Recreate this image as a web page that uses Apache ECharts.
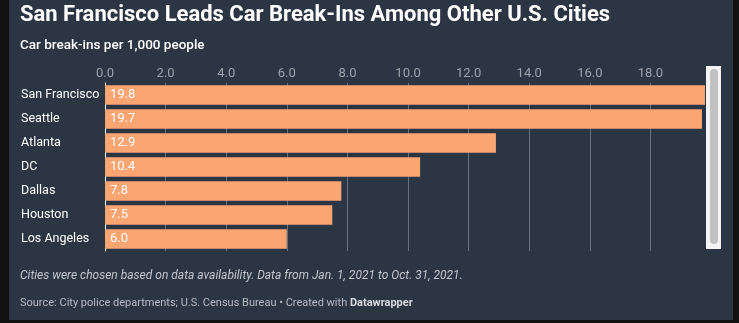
<!DOCTYPE html>
<html>
<head>
<meta charset="utf-8">
<script src="https://cdn.jsdelivr.net/npm/echarts@6/dist/echarts.min.js"></script>
<style>
  html, body { margin: 0; padding: 0; background: #111111; }
  #chart { width: 739px; height: 323px; }
</style>
</head>
<body>
<div id="chart"></div>
<script>
// Car break-ins per 1,000 residents, Jan 1 - Oct 31, 2021
const cities = ['San Francisco', 'Seattle', 'Atlanta', 'DC', 'Dallas', 'Houston', 'Los Angeles'];
const breakIns = [19.8, 19.7, 12.9, 10.4, 7.8, 7.5, 6.0];

const titleText = 'San Francisco Leads Car Break-Ins Among Other U.S. Cities';
const subtitleText = 'Car break-ins per 1,000 people';
const noteText = 'Cities were chosen based on data availability. Data from Jan. 1, 2021 to Oct. 31, 2021.';
const sourceText = 'Source: City police departments; U.S. Census Bureau \u2022 Created with ';
const creditText = 'Datawrapper';

const FONT = 'Roboto, "Noto Sans", sans-serif';
const chart = echarts.init(document.getElementById('chart'), null, { renderer: 'canvas' });

chart.setOption({
  backgroundColor: '#111111',
  animation: false,
  grid: { left: 105, top: 83, width: 600, height: 168, containLabel: false },
  xAxis: {
    type: 'value',
    position: 'top',
    min: 0,
    max: 19.8,
    interval: 2,
    axisLine: { show: false },
    axisTick: { show: false },
    axisLabel: {
      show: true,
      margin: 3,
      color: '#9ea3ab',
      fontFamily: FONT,
      fontSize: 13,
      showMaxLabel: false,
      formatter: v => v.toFixed(1)
    },
    splitLine: { show: true, showMinLine: false, showMaxLine: false, lineStyle: { color: '#6b727d', width: 1 } }
  },
  yAxis: {
    type: 'category',
    data: cities,
    inverse: true,
    axisLine: { show: true, lineStyle: { color: '#ffffff', width: 1 } },
    axisTick: { show: false },
    axisLabel: {
      margin: 84,
      align: 'left',
      color: '#ffffff',
      fontFamily: FONT,
      fontSize: 12.5
    }
  },
  series: [{
    type: 'bar',
    data: breakIns,
    barCategoryGap: '19%',
    itemStyle: { color: '#fba572' },
    z: 1,
    label: {
      show: true,
      position: 'insideLeft',
      distance: 5,
      color: '#ffffff',
      fontFamily: FONT,
      fontSize: 13,
      formatter: p => p.value.toFixed(1)
    }
  }],
  graphic: [
    // panel
    { type: 'rect', z: -10, silent: true, shape: { x: 9, y: 0, width: 724, height: 320 }, style: { fill: '#2c3544' } },
    // scrollbar
    { type: 'rect', z: 10, shape: { x: 706, y: 66, width: 15, height: 183 }, style: { fill: '#f4f4f4' } },
    { type: 'rect', z: 11, shape: { x: 710, y: 69, width: 8, height: 175, r: 4 }, style: { fill: '#c1c1c1' } },
    // headings
    { type: 'text', left: 20, top: 4, style: { text: titleText, fill: '#ffffff', font: 'bold 22px ' + FONT } },
    { type: 'text', left: 20, top: 39, style: { text: subtitleText, fill: '#ffffff', font: '500 13.5px ' + FONT } },
    // footer
    { type: 'text', left: 20, top: 270, style: { text: noteText, fill: '#c4c7cc', font: 'italic 12px ' + FONT } },
    {
      type: 'text', left: 20, top: 298,
      style: {
        text: '{a|' + sourceText + '}{b|' + creditText + '}',
        rich: {
          a: { fill: '#b9bcc2', font: '11px ' + FONT },
          b: { fill: '#d8dadd', font: 'bold 11px ' + FONT }
        }
      }
    }
  ]
});
</script>
</body>
</html>
